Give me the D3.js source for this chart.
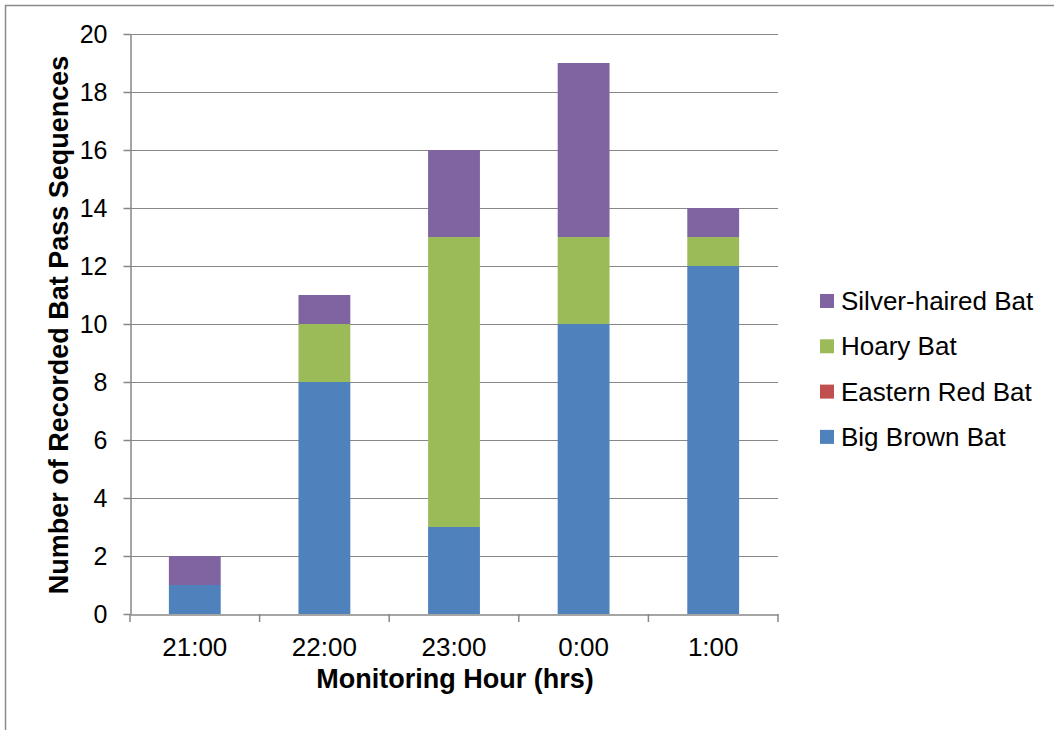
<!DOCTYPE html>
<html><head><meta charset="utf-8">
<script src="https://cdn.jsdelivr.net/npm/d3@7"></script>
<style>body{margin:0;background:#fff;}svg{display:block;font-family:"Liberation Sans",Arial,sans-serif;}</style>
</head><body><svg id="c" width="1054" height="730"></svg>
<script>
const categories = ["21:00","22:00","23:00","0:00","1:00"];
const seriesNames = ["Big Brown Bat","Eastern Red Bat","Hoary Bat","Silver-haired Bat"];
const bigBrown = [1,8,3,10,12];
const easternRed = [0,0,0,0,0];
const hoary = [0,2,10,3,1];
const silverHaired = [1,1,3,6,1];
const yTicks = [0,2,4,6,8,10,12,14,16,18,20];
const colors = ["#4F81BD","#C0504D","#9BBB59","#8064A2"];

const FONT = "Liberation Sans, Arial, sans-serif";
const svg = d3.select("#c");
svg.append("rect").attr("x",5.5).attr("y",5.5).attr("width",1100).attr("height",800)
  .attr("fill","none").attr("stroke","#8a8a8a").attr("stroke-width",1.5);

const L=130, R=778, T=34, B=614;
const xb = d3.scaleBand().domain(categories).range([L,R]);
const y = d3.scaleLinear().domain([0,20]).range([B,T]);

// gridlines
svg.append("g").selectAll("line").data(yTicks.filter(d=>d>0)).join("line")
  .attr("x1",L).attr("x2",R).attr("y1",d=>Math.round(y(d))+0.5).attr("y2",d=>Math.round(y(d))+0.5)
  .attr("stroke","#878787").attr("stroke-width",1);

const table = categories.map((c,i)=>({cat:c, "Big Brown Bat":bigBrown[i], "Eastern Red Bat":easternRed[i], "Hoary Bat":hoary[i], "Silver-haired Bat":silverHaired[i]}));
const stack = d3.stack().keys(seriesNames)(table);
const bw = xb.bandwidth()/2.5;
svg.append("g").selectAll("g").data(stack).join("g").attr("fill",(d,i)=>colors[i])
  .selectAll("rect").data(d=>d.filter(s=>s[1]-s[0]>0)).join("rect")
  .attr("x",d=>xb(d.data.cat)+xb.bandwidth()/2-bw/2).attr("width",bw)
  .attr("y",d=>y(d[1])).attr("height",d=>y(d[0])-y(d[1]));

// y axis
const ya = svg.append("g").attr("transform",`translate(${L+0.5},0)`)
  .call(d3.axisLeft(y).tickValues(yTicks).tickSize(7).tickSizeOuter(0).tickPadding(16));
ya.select(".domain").attr("stroke","#878787").attr("stroke-width",1.5);
ya.selectAll(".tick line").attr("stroke","#878787").attr("stroke-width",1.5);
ya.selectAll("text").attr("font-size",25).attr("fill","#000").attr("font-family",FONT);

// x axis
const xa = svg.append("g").attr("transform",`translate(0,${B+0.5})`)
  .call(d3.axisBottom(xb).tickSize(0).tickPadding(0));
xa.select(".domain").attr("stroke","#878787").attr("stroke-width",1.5);
xa.selectAll("text").attr("font-size",26).attr("fill","#000").attr("font-family",FONT)
  .attr("dy",null).attr("y",41);
const bounds = categories.map(c=>xb(c)).concat([R]);
svg.append("g").selectAll("line").data(bounds).join("line")
  .attr("x1",d=>d).attr("x2",d=>d).attr("y1",B).attr("y2",B+8)
  .attr("stroke","#878787").attr("stroke-width",1.5);

// axis titles
svg.append("text").attr("x",455).attr("y",688).attr("text-anchor","middle")
  .attr("font-size",27).attr("font-weight","bold").attr("font-family",FONT).text("Monitoring Hour (hrs)");
svg.append("text").attr("transform",`translate(68,325) rotate(-90)`).attr("text-anchor","middle")
  .attr("font-size",27).attr("font-weight","bold").attr("font-family",FONT).text("Number of Recorded Bat Pass Sequences");

// legend
const legendOrder = [3,2,1,0];
const lg = svg.append("g").selectAll("g").data(legendOrder).join("g")
  .attr("transform",(d,i)=>`translate(820,${301+i*45.3})`);
lg.append("rect").attr("x",0).attr("y",-7).attr("width",14).attr("height",14).attr("fill",d=>colors[d]);
lg.append("text").attr("x",21).attr("y",9).attr("font-size",26).attr("font-family",FONT).text(d=>seriesNames[d]);
</script></body></html>
